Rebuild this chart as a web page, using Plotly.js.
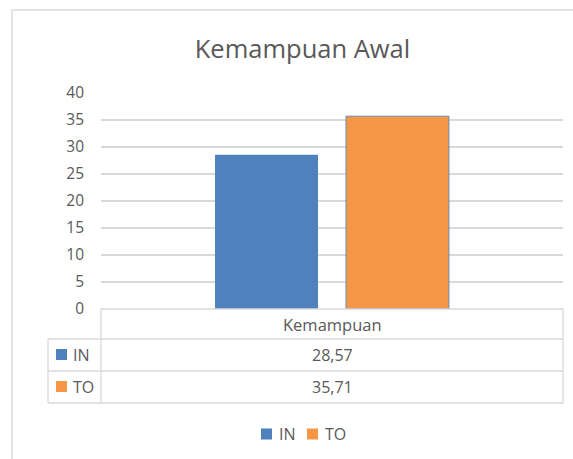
<!DOCTYPE html>
<html>
<head>
<meta charset="utf-8">
<script src="https://cdn.plot.ly/plotly-3.0.1.min.js"></script>
<style>html,body{margin:0;padding:0;background:#fff;}#chart{width:573px;height:459px;}</style>
</head>
<body>
<div id="chart"></div>
<script>
// ---- data ----
const chartTitle = "Kemampuan Awal";
const categories = ["Kemampuan"];
const seriesNames = ["IN", "TO"];
const valuesIN = [28.57];
const valuesTO = [35.71];
const seriesColors = ["#4F81BD", "#F79646"];
const yTicks = [0, 5, 10, 15, 20, 25, 30, 35, 40];

const W = 573, H = 459;
const L = 101, R = 563, T = 93, B = 309;   // plot area px
const pw = R - L, ph = B - T;
const FONT = "'Open Sans', Lato, sans-serif";
const TXT = "#595959";
const GRID = "#D9D9D9";

const px = x => (x - L) / pw;
const py = y => (B - y) / ph;

const allValues = [valuesIN, valuesTO];
const fmt = v => v.toFixed(2).replace(".", ",");

const traces = allValues.map((vals, i) => ({
  type: "bar",
  name: seriesNames[i],
  x: categories,
  y: vals,
  marker: {
    color: seriesColors[i],
    line: i === 1 ? {color: "rgba(79,129,189,0.85)", width: 1} : {width: 0}
  },
  showlegend: false,
  hoverinfo: "x+y"
}));

const shapes = [];
const annotations = [];
const line = (x0, y0, x1, y1, w) => shapes.push({
  type: "line", xref: "paper", yref: "paper",
  x0: px(x0), y0: py(y0), x1: px(x1), y1: py(y1),
  line: {color: GRID, width: w || 1.3}
});
const label = (x, y, text, size, anchor) => annotations.push({
  xref: "paper", yref: "paper", x: px(x), y: py(y), text: text, showarrow: false,
  font: {family: FONT, size: size, color: TXT}, xanchor: anchor || "center", yanchor: "middle"
});
const swatch = (x0, yc, color) => shapes.push({type: "rect", xref: "paper", yref: "paper",
  x0: px(x0), x1: px(x0 + 11), y0: py(yc - 5.5), y1: py(yc + 5.5),
  fillcolor: color, line: {width: 0}});

// outer chart frame (cropped at right/bottom)
shapes.push({type: "rect", xref: "paper", yref: "paper",
  x0: px(12), y0: py(10), x1: px(620), y1: py(520),
  line: {color: GRID, width: 1.3}, layer: "below"});

// data table grid
const rowTops = [309, 339, 371, 403];
const leftCol = 48;
line(L, rowTops[0], R, rowTops[0]);
for (let r = 1; r < rowTops.length; r++) line(leftCol, rowTops[r], R, rowTops[r]);
line(L, rowTops[0], L, rowTops[3]);
line(R, rowTops[0], R, rowTops[3]);
line(leftCol, rowTops[1], leftCol, rowTops[3]);

// header row: categories
categories.forEach(c => label((L + R) / 2, (rowTops[0] + rowTops[1]) / 2 + 0.5, c, 16.5));
// series rows
seriesNames.forEach((s, i) => {
  const yc = (rowTops[i + 1] + rowTops[i + 2]) / 2;
  swatch(56, yc - 0.5, seriesColors[i]);
  label(71, yc, s, 16, "left");
  allValues[i].forEach(v => label((L + R) / 2, yc, fmt(v), 16));
});

// bottom legend
const legY = 434;
const legX = [261, 307];
seriesNames.forEach((s, i) => {
  swatch(legX[i], legY, seriesColors[i]);
  label(legX[i] + 16, legY, s, 16, "left");
});

const layout = {
  width: W, height: H,
  margin: {l: L, r: W - R, t: T, b: H - B, pad: 0},
  paper_bgcolor: "#fff", plot_bgcolor: "#fff",
  separators: ",.",
  title: {text: chartTitle, font: {family: FONT, size: 25.5, color: TXT},
    x: 302.5 / W, xanchor: "center", xref: "container",
    y: 1 - 49 / H, yanchor: "middle", yref: "container"},
  barmode: "group",
  bargap: 0.433,
  bargroupgap: 0.214,
  xaxis: {showticklabels: false, showgrid: false, zeroline: false, showline: false, ticks: "", fixedrange: true},
  yaxis: {range: [0, 40], tickvals: yTicks, showgrid: true, gridcolor: GRID, gridwidth: 1.3,
    zeroline: false, showline: false, ticks: "", ticklabelstandoff: 16,
    tickfont: {family: FONT, size: 15.5, color: TXT}, fixedrange: true},
  showlegend: false,
  shapes: shapes,
  annotations: annotations
};

Plotly.newPlot("chart", traces, layout, {displayModeBar: false, staticPlot: true});
</script>
</body>
</html>
